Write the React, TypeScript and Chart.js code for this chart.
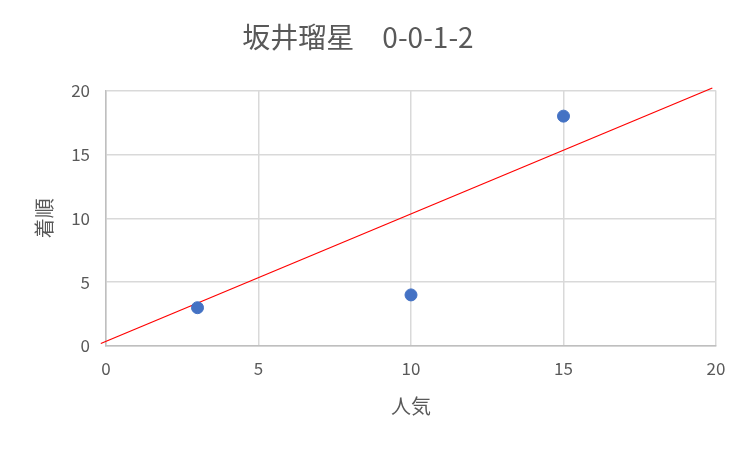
import React, { useEffect, useRef } from "react";
import { Chart, registerables } from "chart.js";

Chart.register(...registerables);

const titleText = "坂井瑠星　0-0-1-2";
const xAxisTitle = "人気";
const yAxisTitle = "着順";
const popularity = [3, 10, 15];
const finishPos = [3, 4, 18];
const trendX = [-0.17, 19.88];
const trendY = [0.2, 20.2];

const FONT = '"Noto Sans CJK JP", "Noto Sans", sans-serif';
const TEXT = "#595959";

export default function App() {
  const ref = useRef<HTMLCanvasElement | null>(null);
  useEffect(() => {
    if (!ref.current) return;
    const chart = new Chart(ref.current, {
      type: "scatter",
      data: {
        datasets: [
          {
            label: "data",
            data: popularity.map((x, i) => ({ x, y: finishPos[i] })),
            backgroundColor: "#4472C4",
            borderColor: "#4472C4",
            pointRadius: 6,
            pointHoverRadius: 6,
            order: 1,
          },
          {
            label: "trend",
            type: "line",
            data: trendX.map((x, i) => ({ x, y: trendY[i] })),
            borderColor: "#FF0000",
            borderWidth: 1.2,
            pointRadius: 0,
            fill: false,
            clip: false as any,
            order: 2,
          } as any,
        ],
      },
      options: {
        animation: false,
        responsive: true,
        maintainAspectRatio: false,
        layout: { padding: { left: 0, right: 34, top: 0, bottom: 0 } },
        plugins: {
          legend: { display: false },
          tooltip: { enabled: false },
          title: {
            display: true,
            text: titleText,
            color: TEXT,
            font: { family: FONT, size: 28, weight: "normal" },
            padding: { top: 21, bottom: 36 },
          },
        },
        scales: {
          x: {
            type: "linear",
            min: 0,
            max: 20,
            ticks: {
              stepSize: 5,
              color: TEXT,
              font: { family: FONT, size: 17 },
              padding: 12,
            },
            grid: { color: "#d9d9d9", lineWidth: 1.5, drawTicks: false },
            border: { color: "#bfbfbf", width: 1.5 },
            title: {
              display: true,
              text: xAxisTitle,
              color: TEXT,
              font: { family: FONT, size: 20 },
              padding: { top: 0, bottom: 32 },
            },
            afterFit: (s: any) => {
              s.height = 104;
            },
          },
          y: {
            type: "linear",
            min: 0,
            max: 20,
            ticks: {
              stepSize: 5,
              color: TEXT,
              font: { family: FONT, size: 17 },
              padding: 16,
            },
            grid: { color: "#d9d9d9", lineWidth: 1.5, drawTicks: false },
            border: { color: "#bfbfbf", width: 1.5 },
            title: {
              display: true,
              text: yAxisTitle,
              color: TEXT,
              font: { family: FONT, size: 20 },
              padding: { top: 32, bottom: 0 },
            },
            afterFit: (s: any) => {
              s.width = 106;
            },
          },
        },
      },
    });
    return () => chart.destroy();
  }, []);
  return (
    <div style={{ position: "fixed", left: 0, top: 0, width: 750, height: 450, background: "#fff" }}>
      <canvas ref={ref} />
    </div>
  );
}
